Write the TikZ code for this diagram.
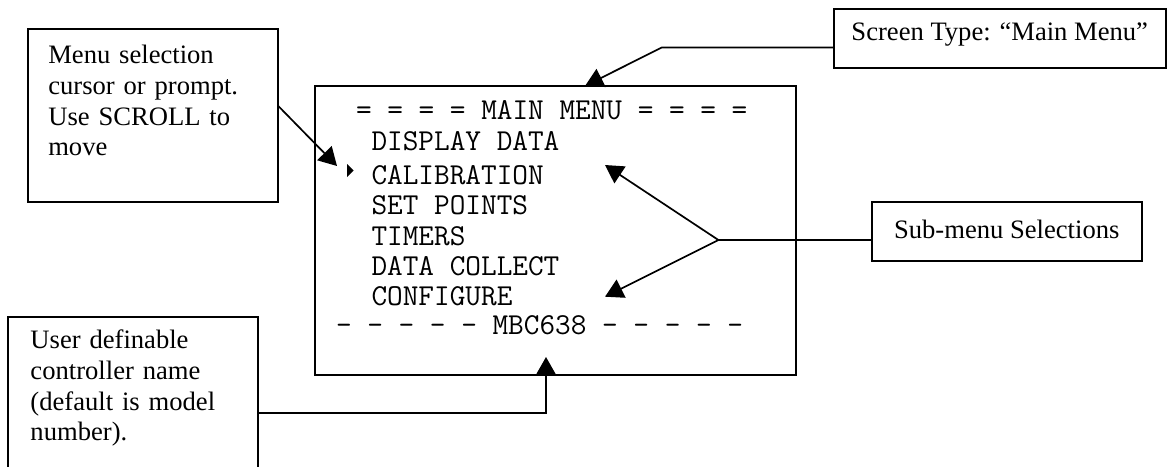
\documentclass[tikz,border=0pt]{standalone}
\usepackage{fontspec}
\setmainfont{Liberation Serif}
\usetikzlibrary{arrows.meta}

\begin{document}
\begin{tikzpicture}[
  x=0.5pt, y=-0.5pt,
  every node/.style={font=\fontsize{13.3pt}{15.3pt}\selectfont, inner sep=0pt, outer sep=0pt},
  note/.style={draw, line width=1pt, anchor=north west},
  lcd/.style={font=\ttfamily\fontsize{15.2pt}{17pt}\selectfont, anchor=base west},
  lead/.style={line width=0.85pt, -{Triangle[length=9pt,width=10pt]}},
]
\useasboundingbox (0,0) rectangle (1167,466);
\clip (0,0) rectangle (1167,466);

%% Display panel
\node[draw, line width=1pt, anchor=north west,
      minimum width=240.5pt, minimum height=144.25pt] (panel) at (315,86) {};

%% Panel lines (x of left edge / baseline)
\foreach \n/\xx/\yy/\txt in {
    1/356/119.3/{= = = = MAIN MENU = = = =},
    2/371.5/150.9/{DISPLAY DATA},
    3/371.5/184.3/{CALIBRATION},
    4/371.5/214.3/{SET POINTS},
    5/371.5/245.9/{TIMERS},
    6/371.5/275.9/{DATA COLLECT},
    7/371.5/305.9/{CONFIGURE},
    8/336/334.3/{– – – – – MBC638 – – – – –}} {
  \node[lcd] (row\n) at (\xx,\yy) {\txt};
}

%% Selection cursor
\fill (347,164) -- (353.5,170.5) -- (347,177) -- cycle;

%% Callout boxes
\node[note, text width=104.7pt, align=left, inner xsep=10.3pt,
      text height=17.55pt, text depth=69.25pt] (prompt) at (27.7,28.7)
  {Menu selection\\cursor or prompt.\\Use SCROLL to\\move};
\node[note, minimum width=165.75pt,
      text height=15.6pt, text depth=13.75pt] (scrtype) at (834,9.3)
  {Screen Type: “Main Menu”};
\node[note, minimum width=135.25pt,
      text height=18.15pt, text depth=11.25pt] (submenu) at (871.5,201.7)
  {Sub-menu Selections};
\node[note, text width=102.8pt, align=left, inner xsep=11.1pt,
      text height=16.05pt, text depth=80.1pt] (username) at (8.3,316.7)
  {User definable\\controller name\\(default is model\\number).};

%% Free ends of the leaders
\coordinate (curtip) at (337,166);
\coordinate (bend) at (661.7,47.5);
\coordinate (scrtip) at (585,86);
\coordinate (fork) at (718.4,240);
\coordinate (caltip) at (605,165);
\coordinate (cfgtip) at (605,296.7);
\coordinate (mbctip) at (546,357);

%% Leaders
\draw[lead] ([yshift=4.75pt]prompt.east) -- (curtip);
\draw[lead] (bend -| scrtype.west) -- (bend) -- (scrtip);
\draw[line width=0.85pt] (fork -| submenu.west) -- (fork);
\draw[lead] (fork) -- (caltip);
\draw[lead] (fork) -- (cfgtip);
\draw[lead] (username.east) -| (mbctip);

\end{tikzpicture}
\end{document}
